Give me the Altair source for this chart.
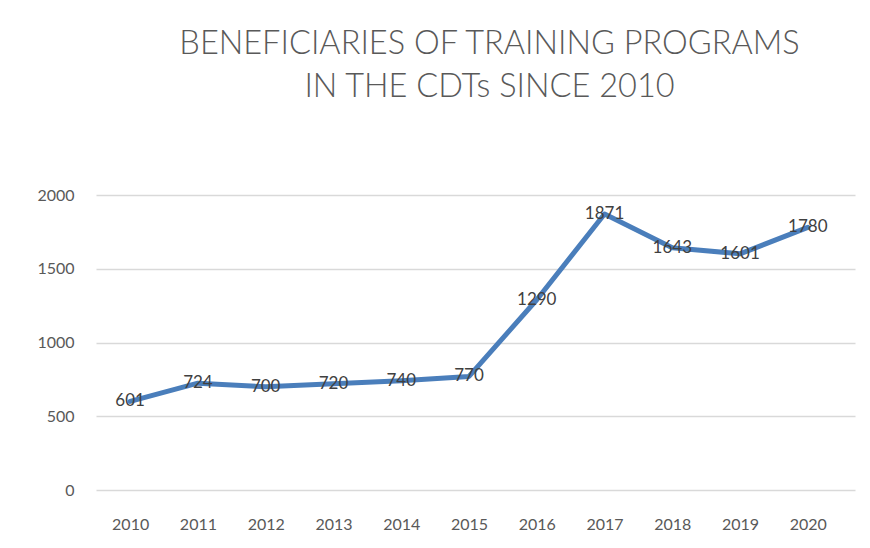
import altair as alt
import pandas as pd

years = ["2010", "2011", "2012", "2013", "2014", "2015", "2016", "2017", "2018", "2019", "2020"]
values = [601, 724, 700, 720, 740, 770, 1290, 1871, 1643, 1601, 1780]
y_ticks = [0, 500, 1000, 1500, 2000]
title_lines = ["BENEFICIARIES OF TRAINING PROGRAMS", "IN THE CDTs SINCE 2010"]

df = pd.DataFrame({"year": years, "value": values})

FONT = "Lato"

base = alt.Chart(df).encode(
    x=alt.X("year:O", sort=years,
            scale=alt.Scale(type="point", padding=0.6, align=0.42),
            axis=alt.Axis(title=None, labelAngle=0, domain=False, ticks=False,
                          labelPadding=26, labelFontSize=16, labelColor="#595959",
                          labelFont=FONT, grid=False)),
    y=alt.Y("value:Q", scale=alt.Scale(domain=[0, 2000], nice=False),
            axis=alt.Axis(title=None, values=y_ticks, format="d", domain=False, ticks=False,
                          labelPadding=22, labelFontSize=16, labelColor="#595959",
                          labelFont=FONT, grid=True, gridColor="#d9d9d9",
                          gridWidth=1.5)),
)

line = base.mark_line(color="#4a7ebb", strokeWidth=5, strokeCap="round", strokeJoin="round")
labels = base.mark_text(fontSize=17, color="#404040", font=FONT, baseline="middle",
                        align="center").encode(text="value:Q")

chart = (line + labels).properties(
    width=759,
    height=295,
    title=alt.TitleParams(text=title_lines, fontSize=32.5, font=FONT, fontWeight=300,
                          color="#595959", anchor="middle", offset=84, lineHeight=43,
                          dx=14),
    autosize=alt.AutoSizeParams(type="none"),
    padding={"left": 88, "top": 187, "right": 7, "bottom": 45},
).configure(background="white").configure_view(stroke=None)

chart.save("out.html", embed_options={"renderer": "svg", "actions": False})
